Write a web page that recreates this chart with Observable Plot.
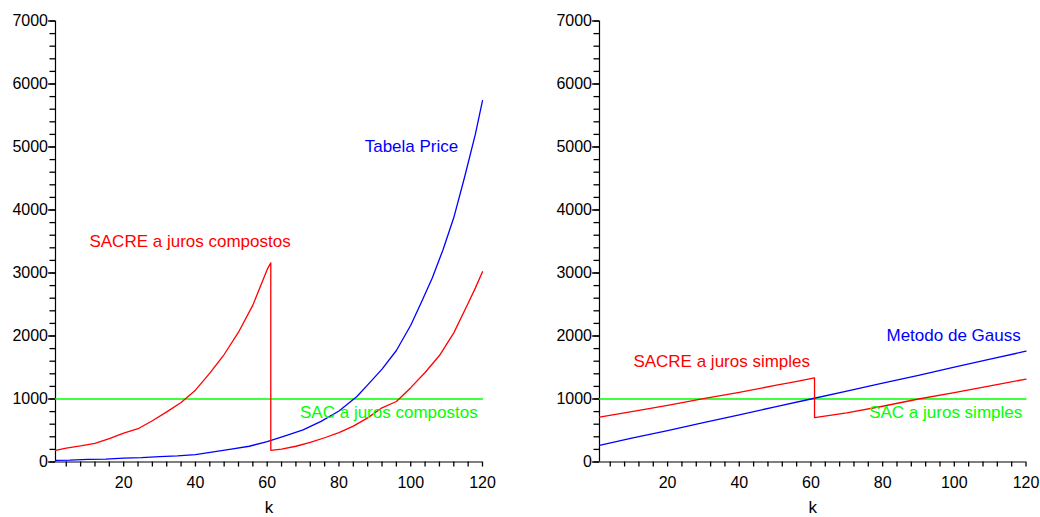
<!DOCTYPE html>
<html><head><meta charset="utf-8">
<script src="https://cdn.jsdelivr.net/npm/d3@7"></script>
<script src="https://cdn.jsdelivr.net/npm/@observablehq/plot@0.6"></script>
<style>
body{margin:0;background:#fff;}
#wrap{display:flex;width:1040px;height:517px;}
#wrap svg{display:block;}
</style></head><body><div id="wrap"></div>
<script>
// ---- Left panel: juros compostos ----
const kSacreComp = [1, 4, 8, 12, 16, 20, 24, 28, 32, 36, 40, 44, 48, 52, 56, 60, 61,
                    61, 64, 68, 72, 76, 80, 84, 88, 92, 96, 100, 104, 108, 112, 116, 118, 120];
const vSacreComp = [185, 221, 255, 295, 370, 459, 528, 655, 795, 945, 1140, 1410, 1706, 2060, 2490, 3057, 3160,
                    185, 205, 250, 310, 385, 465, 570, 700, 860, 960, 1180, 1420, 1690, 2050, 2520, 2760, 3020];
const kPrice = [1, 5, 10, 15, 20, 25, 30, 35, 40, 45, 50, 55, 60, 65, 70, 75, 80, 85, 88, 92, 96, 100, 103, 106, 109, 112, 115, 118, 120];
const vPrice = [26, 30, 42, 47, 62, 70, 85, 97, 116, 160, 205, 250, 325, 415, 510, 645, 810, 1040, 1225, 1475, 1770, 2170, 2540, 2920, 3370, 3880, 4520, 5200, 5735];
const kSacComp = [1, 120];
const vSacComp = [1000, 1000];

// ---- Right panel: juros simples ----
const kSacreSimp = [1, 10, 20, 30, 40, 50, 55, 61,
                    61, 70, 80, 90, 100, 110, 120];
const vSacreSimp = [713, 800, 900, 1005, 1105, 1215, 1268, 1335,
                    705, 780, 885, 1000, 1100, 1210, 1315];
const kGauss = [1, 10, 20, 30, 40, 50, 60, 70, 80, 90, 100, 110, 120];
const vGauss = [264, 380, 498, 624, 748, 876, 1000, 1126, 1252, 1376, 1506, 1632, 1759];
const kSacSimp = [1, 120];
const vSacSimp = [1000, 1000];

// ---- Ticks & labels ----
const xTickLabels = [20, 40, 60, 80, 100, 120];
const xMinorTicks = d3.range(4, 121, 4);
const yTickLabels = [0, 1000, 2000, 3000, 4000, 5000, 6000, 7000];
const yMinorTicks = d3.range(0, 7001, 200);
const xLabel = "k";

const labelsLeft = [
  {k: 100.2, v: 5000, text: "Tabela Price", color: "#0000ff"},
  {k: 38.5, v: 3505, text: "SACRE a juros compostos", color: "#ff0000"},
  {k: 93.9, v: 790, text: "SAC a juros compostos", color: "#00ff00"}
];
const labelsRight = [
  {k: 99.8, v: 2008, text: "Metodo de Gauss", color: "#0000ff"},
  {k: 35.1, v: 1595, text: "SACRE a juros simples", color: "#ff0000"},
  {k: 97.6, v: 790, text: "SAC a juros simples", color: "#00ff00"}
];

const rows = (ks, vs) => ks.map((k, i) => ({k, v: vs[i]}));

function panel({width, marginLeft, marginRight, series, labels}) {
  return Plot.plot({
    width, height: 517, marginLeft, marginRight, marginTop: 20.5, marginBottom: 55.5,
    style: {fontFamily: "'Liberation Sans', Arial, sans-serif", fontSize: "16px", background: "white", color: "black", overflow: "visible"},
    x: {domain: [1, 120]},
    y: {domain: [0, 7000]},
    color: {type: "identity"},
    marks: [
      Plot.axisY({ticks: yMinorTicks, tickSize: 5.5, tickFormat: () => "", label: null, stroke: "black", strokeWidth: 1.3}),
      Plot.axisY({ticks: yTickLabels, tickSize: 7, tickPadding: 0.5, tickFormat: d => String(d), label: null, stroke: "black", strokeWidth: 1.3}),
      Plot.axisX({ticks: xMinorTicks, tickSize: 5, tickPadding: 10, tickFormat: d => xTickLabels.includes(d) ? String(d) : "", label: null, stroke: "black", strokeWidth: 1.3}),
      Plot.ruleX([1], {stroke: "black", strokeWidth: 1.2}),
      Plot.ruleY([0], {stroke: "black", strokeWidth: 1.2}),
      ...series.map(s => Plot.line(rows(s.k, s.v), {x: "k", y: "v", stroke: s.color, strokeWidth: 1.3})),
      Plot.text(labels, {x: "k", y: "v", text: "text", fill: "color", fontSize: 17}),
      Plot.text([xLabel], {frameAnchor: "bottom", lineAnchor: "middle", dy: 45.5, fontSize: 17, fill: "black"})
    ]
  });
}

const left = panel({
  width: 520, marginLeft: 55, marginRight: 38,
  series: [
    {k: kSacComp, v: vSacComp, color: "#00ff00"},
    {k: kPrice, v: vPrice, color: "#0000ff"},
    {k: kSacreComp, v: vSacreComp, color: "#ff0000"}
  ],
  labels: labelsLeft
});
const right = panel({
  width: 520, marginLeft: 79, marginRight: 14.5,
  series: [
    {k: kSacSimp, v: vSacSimp, color: "#00ff00"},
    {k: kGauss, v: vGauss, color: "#0000ff"},
    {k: kSacreSimp, v: vSacreSimp, color: "#ff0000"}
  ],
  labels: labelsRight
});
document.getElementById("wrap").append(left, right);
</script>
</body></html>
